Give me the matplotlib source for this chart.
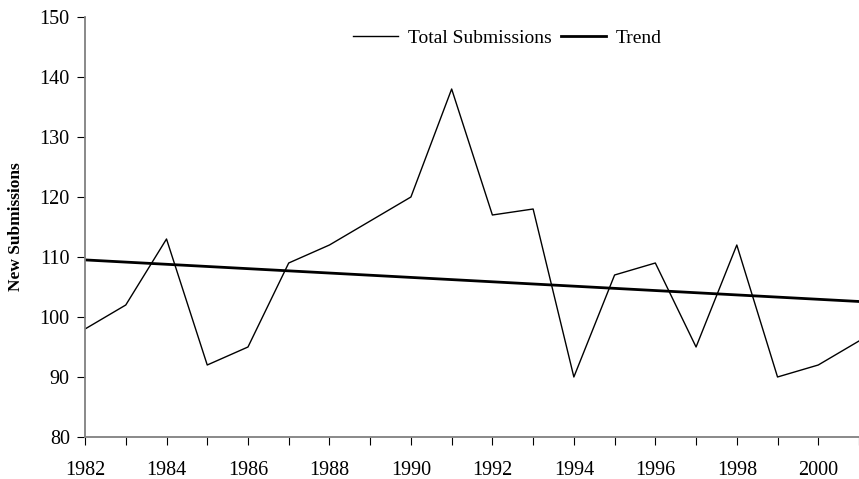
import matplotlib
matplotlib.use("Agg")
import matplotlib.pyplot as plt
import numpy as np

# yearly new submissions (2001 lies past the cropped right edge)
years = [1982, 1983, 1984, 1985, 1986, 1987, 1988, 1989, 1990, 1991,
         1992, 1993, 1994, 1995, 1996, 1997, 1998, 1999, 2000, 2001]
submissions = [98, 102, 113, 92, 95, 109, 112, 116, 120, 138,
               117, 118, 90, 107, 109, 95, 112, 90, 92, 96]
label_years = list(range(1982, 2001, 2))
y_ticks = [80, 90, 100, 110, 120, 130, 140, 150]

plt.rcParams['font.family'] = ['Liberation Serif', 'DejaVu Serif']

x = np.array(years)
y = np.array(submissions)
# linear trend like Excel's trendline
coef = np.polyfit(x, y, 1)
trend = np.polyval(coef, x)

fig = plt.figure(figsize=(8.59, 4.79), dpi=100)
ax = fig.add_axes([0.099, 0.0877, 0.901, 0.8768])

ax.plot(x, y, color="black", lw=1.0, label="Total Submissions")
ax.plot(x, trend, color="black", lw=2.0, label="Trend")

ax.set_xlim(1982, 2000.74)
ax.set_ylim(80, 150)
ax.set_xticks(label_years)
ax.set_xticks(years, minor=True)
ax.set_yticks(y_ticks)

for side in ["top", "right"]:
    ax.spines[side].set_visible(False)
for side in ["left", "bottom"]:
    ax.spines[side].set_color("#808080")
    ax.spines[side].set_linewidth(1.3)

ax.tick_params(axis="both", which="both", direction="out", color="black",
               width=0.8, length=6, labelsize=14.5)
ax.tick_params(axis="x", which="major", pad=11)
ax.tick_params(axis="y", pad=5)

ax.set_ylabel("New Submissions", fontsize=12.5, fontweight="bold")
ax.yaxis.set_label_coords(-0.079, 0.5)

ax.legend(loc="center", bbox_to_anchor=(0.591, 0.921), bbox_transform=fig.transFigure,
          ncol=2, frameon=False, fontsize=14, handlelength=2.3,
          handletextpad=0.5, columnspacing=0.5)

fig.savefig("out.png", dpi=100)
plt.close()
